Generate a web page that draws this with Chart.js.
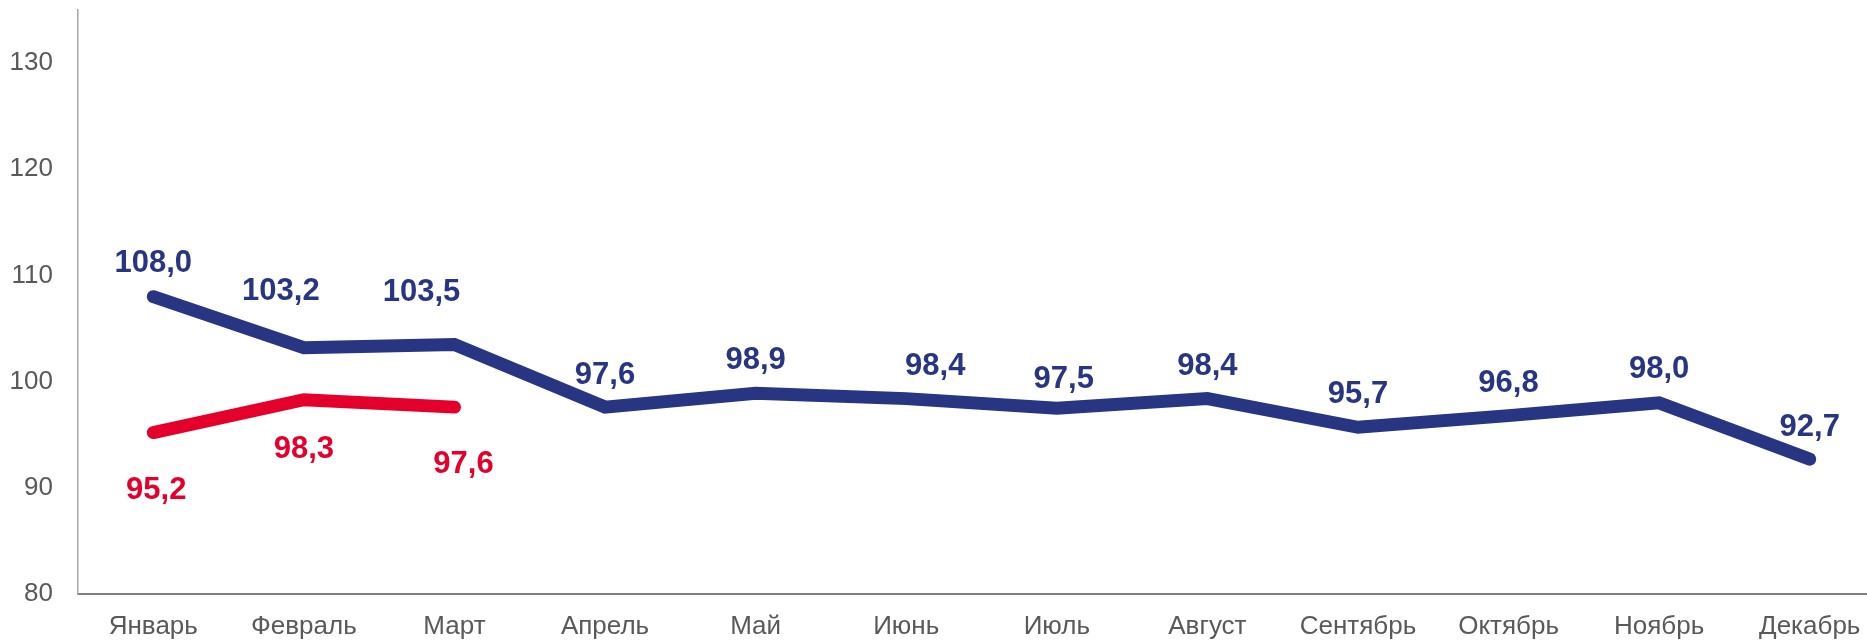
<!DOCTYPE html>
<html>
<head>
<meta charset="utf-8">
<script src="https://cdn.jsdelivr.net/npm/chart.js@4.4.1/dist/chart.umd.min.js"></script>
<style>
  html, body { margin: 0; padding: 0; background: #fff; overflow: hidden; }
  #wrap { width: 1890px; height: 640px; position: relative; }
</style>
</head>
<body>
<div id="wrap"><canvas id="chart"></canvas></div>
<script>
const months = ['Январь', 'Февраль', 'Март', 'Апрель', 'Май', 'Июнь', 'Июль', 'Август', 'Сентябрь', 'Октябрь', 'Ноябрь', 'Декабрь'];
const blueValues = [108.0, 103.2, 103.5, 97.6, 98.9, 98.4, 97.5, 98.4, 95.7, 96.8, 98.0, 92.7];
const redValues = [95.2, 98.3, 97.6, null, null, null, null, null, null, null, null, null];
const yTicks = [80, 90, 100, 110, 120, 130];

// label nudges (px) relative to each point
const blueDx = [0, -23, -33, 0, 0, 29, 7, 0, 0, 0, 0, 0];
const blueDy = [-33, -56, -52, -32, -33, -32, -29, -32, -33, -32, -33, -32];
const redDx = [3, 0, 9];
const redDy = [58, 50, 57];

const BLUE = '#283583';
const RED = '#e4002b';
const FONT = '"Liberation Sans", Arial, sans-serif';

const fmt = v => v.toFixed(1).replace('.', ',');

const valueLabels = {
  id: 'valueLabels',
  afterDatasetsDraw(chart) {
    const ctx = chart.ctx;
    ctx.save();
    ctx.font = 'bold 31px ' + FONT;
    ctx.textAlign = 'center';
    ctx.textBaseline = 'middle';
    chart.data.datasets.forEach((ds, di) => {
      const meta = chart.getDatasetMeta(di);
      const dx = di === 0 ? blueDx : redDx;
      const dy = di === 0 ? blueDy : redDy;
      ctx.fillStyle = ds.borderColor;
      meta.data.forEach((pt, i) => {
        const v = ds.data[i];
        if (v === null || v === undefined) return;
        ctx.fillText(fmt(v), pt.x + (dx[i] || 0), pt.y + (dy[i] || 0));
      });
    });
    ctx.restore();
  }
};

new Chart(document.getElementById('chart'), {
  type: 'line',
  data: {
    labels: months,
    datasets: [
      {
        data: blueValues,
        borderColor: BLUE,
        borderWidth: 13,
        borderCapStyle: 'round',
        borderJoinStyle: 'miter',
        pointRadius: 0,
        tension: 0
      },
      {
        data: redValues,
        borderColor: RED,
        borderWidth: 13,
        borderCapStyle: 'round',
        borderJoinStyle: 'miter',
        pointRadius: 0,
        tension: 0,
        spanGaps: false
      }
    ]
  },
  options: {
    responsive: true,
    maintainAspectRatio: false,
    animation: false,
    layout: { padding: { top: 10, right: 5, left: 0, bottom: 0 } },
    plugins: {
      legend: { display: false },
      tooltip: { enabled: false }
    },
    scales: {
      x: {
        offset: true,
        grid: { display: false, drawTicks: false },
        border: { display: true, color: '#7f7f7f', width: 2 },
        ticks: {
          color: '#595959',
          font: { family: FONT, size: 26 },
          padding: 17,
          maxRotation: 0,
          autoSkip: false
        },
        afterFit(scale) { scale.height = 46; scale.paddingLeft = 0; scale.paddingRight = 0; }
      },
      y: {
        min: 80,
        max: 135,
        grid: { display: false, drawTicks: false },
        border: { display: true, color: '#a6a6a6', width: 1.5 },
        ticks: {
          stepSize: 10,
          color: '#595959',
          font: { family: FONT, size: 26 },
          padding: 25,
          callback: v => yTicks.includes(v) ? String(v) : ''
        },
        afterFit(scale) { scale.width = 78; scale.paddingTop = 0; scale.paddingBottom = 0; }
      }
    }
  },
  plugins: [valueLabels]
});
</script>
</body>
</html>
